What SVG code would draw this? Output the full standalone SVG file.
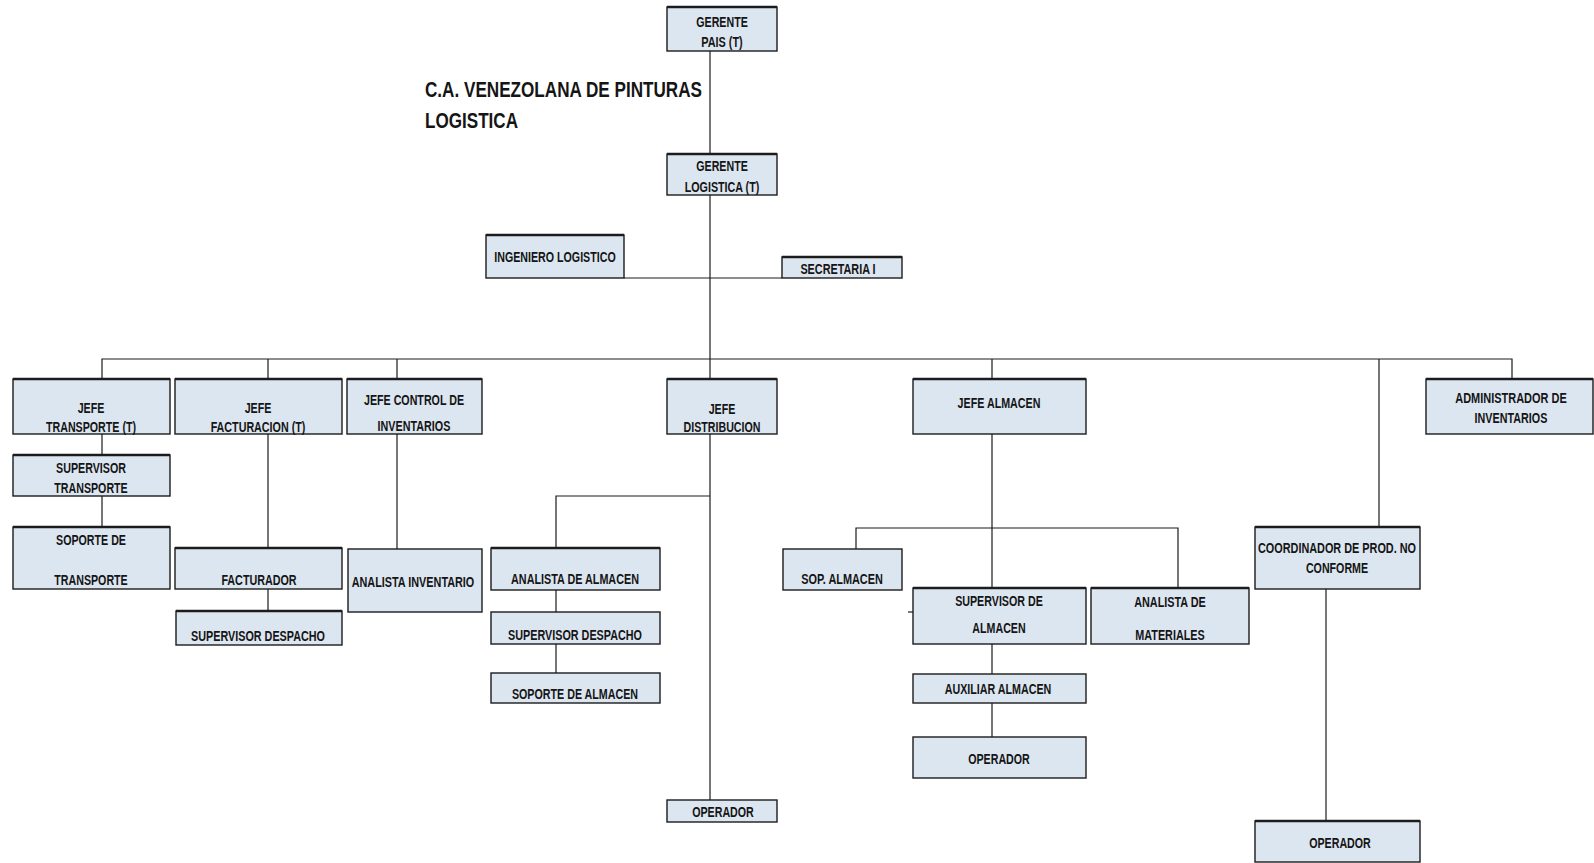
<svg xmlns="http://www.w3.org/2000/svg" width="1594" height="863" viewBox="0 0 1594 863">
<style>
.bg{fill:#ffffff}
.box{fill:#dce6f1;stroke:#1c1c1c;stroke-width:1.4}
.top{stroke:#1c1c1c;stroke-width:2.6}
.t{font-family:'Liberation Sans Narrow','Liberation Sans',Arial,sans-serif;font-weight:bold;font-size:14.5px;text-anchor:middle;fill:#151515}
.title{font-family:'Liberation Sans Narrow','Liberation Sans',Arial,sans-serif;font-weight:bold;font-size:22.5px;fill:#151515}
.c{fill:none;stroke:#1c1c1c;stroke-width:1.2}
</style>
<rect class="bg" x="0" y="0" width="1594" height="863"/>
<g id="title">
<text class="title" x="425" y="97" textLength="277" lengthAdjust="spacingAndGlyphs">C.A. VENEZOLANA DE PINTURAS</text>
<text class="title" x="425" y="128" textLength="93" lengthAdjust="spacingAndGlyphs">LOGISTICA</text>
</g>
<g id="connectors">
<path class="c" d="M710 51V154"/>
<path class="c" d="M710 195V379"/>
<path class="c" d="M624 278H782"/>
<path class="c" d="M102 379V359H1512V379"/>
<path class="c" d="M268 359V379M397 359V379M992 359V379M1379 359V527"/>
<path class="c" d="M102 434V455M102 496V527"/>
<path class="c" d="M268 434V548M268 589V611"/>
<path class="c" d="M397 434V549"/>
<path class="c" d="M710 434V800M710 496H556V548M556 590V612M556 644V673"/>
<path class="c" d="M992 434V588M856 549V528H1178V588"/>
<path class="c" d="M908 612H913"/>
<path class="c" d="M992 644V674M992 703V737"/>
<path class="c" d="M1326 589V821"/>
</g>
<g id="gerente-pais"><rect class="box" x="667" y="7" width="110" height="44"/><line class="top" x1="667" y1="7" x2="777" y2="7"/>
<text class="t" x="722" y="27" textLength="51.5" lengthAdjust="spacingAndGlyphs">GERENTE</text><text class="t" x="722" y="47" textLength="41.5" lengthAdjust="spacingAndGlyphs">PAIS (T)</text></g>
<g id="gerente-logistica"><rect class="box" x="667" y="154" width="110" height="41"/><line class="top" x1="667" y1="154" x2="777" y2="154"/>
<text class="t" x="722" y="171" textLength="51.5" lengthAdjust="spacingAndGlyphs">GERENTE</text><text class="t" x="722" y="192" textLength="74.6" lengthAdjust="spacingAndGlyphs">LOGISTICA (T)</text></g>
<g id="ingeniero-logistico"><rect class="box" x="486" y="235" width="138" height="43"/><line class="top" x1="486" y1="235" x2="624" y2="235"/>
<text class="t" x="555" y="262" textLength="121.4" lengthAdjust="spacingAndGlyphs">INGENIERO LOGISTICO</text></g>
<g id="secretaria"><rect class="box" x="782" y="257" width="120" height="21"/><line class="top" x1="782" y1="257" x2="902" y2="257"/>
<text class="t" x="838" y="274" textLength="75.2" lengthAdjust="spacingAndGlyphs">SECRETARIA I</text></g>
<g id="jefe-transporte"><rect class="box" x="13" y="379" width="157" height="55"/><line class="top" x1="13" y1="379" x2="170" y2="379"/>
<text class="t" x="91" y="413" textLength="26.7" lengthAdjust="spacingAndGlyphs">JEFE</text><text class="t" x="91" y="432" textLength="90" lengthAdjust="spacingAndGlyphs">TRANSPORTE (T)</text></g>
<g id="jefe-facturacion"><rect class="box" x="175" y="379" width="167" height="55"/><line class="top" x1="175" y1="379" x2="342" y2="379"/>
<text class="t" x="258" y="413" textLength="26.7" lengthAdjust="spacingAndGlyphs">JEFE</text><text class="t" x="258" y="432" textLength="94.7" lengthAdjust="spacingAndGlyphs">FACTURACION (T)</text></g>
<g id="jefe-control"><rect class="box" x="347" y="379" width="135" height="55"/><line class="top" x1="347" y1="379" x2="482" y2="379"/>
<text class="t" x="414" y="405" textLength="100" lengthAdjust="spacingAndGlyphs">JEFE CONTROL DE</text><text class="t" x="414" y="431" textLength="72.8" lengthAdjust="spacingAndGlyphs">INVENTARIOS</text></g>
<g id="jefe-distribucion"><rect class="box" x="667" y="379" width="110" height="55"/><line class="top" x1="667" y1="379" x2="777" y2="379"/>
<text class="t" x="722" y="414" textLength="26.7" lengthAdjust="spacingAndGlyphs">JEFE</text><text class="t" x="722" y="432" textLength="76.8" lengthAdjust="spacingAndGlyphs">DISTRIBUCION</text></g>
<g id="jefe-almacen"><rect class="box" x="913" y="379" width="173" height="55"/><line class="top" x1="913" y1="379" x2="1086" y2="379"/>
<text class="t" x="999" y="408" textLength="82.9" lengthAdjust="spacingAndGlyphs">JEFE ALMACEN</text></g>
<g id="administrador-inventarios"><rect class="box" x="1426" y="379" width="167" height="55"/><line class="top" x1="1426" y1="379" x2="1593" y2="379"/>
<text class="t" x="1511" y="403" textLength="111.4" lengthAdjust="spacingAndGlyphs">ADMINISTRADOR DE</text><text class="t" x="1511" y="423" textLength="72.8" lengthAdjust="spacingAndGlyphs">INVENTARIOS</text></g>
<g id="supervisor-transporte"><rect class="box" x="13" y="455" width="157" height="41"/><line class="top" x1="13" y1="455" x2="170" y2="455"/>
<text class="t" x="91" y="473" textLength="69.9" lengthAdjust="spacingAndGlyphs">SUPERVISOR</text><text class="t" x="91" y="493" textLength="73.4" lengthAdjust="spacingAndGlyphs">TRANSPORTE</text></g>
<g id="soporte-transporte"><rect class="box" x="13" y="527" width="157" height="62"/><line class="top" x1="13" y1="527" x2="170" y2="527"/>
<text class="t" x="91" y="545" textLength="69.9" lengthAdjust="spacingAndGlyphs">SOPORTE DE</text><text class="t" x="91" y="585" textLength="73.4" lengthAdjust="spacingAndGlyphs">TRANSPORTE</text></g>
<g id="facturador"><rect class="box" x="175" y="548" width="167" height="41"/><line class="top" x1="175" y1="548" x2="342" y2="548"/>
<text class="t" x="259" y="585" textLength="75.2" lengthAdjust="spacingAndGlyphs">FACTURADOR</text></g>
<g id="supervisor-despacho-fact"><rect class="box" x="176" y="611" width="166" height="34"/><line class="top" x1="176" y1="611" x2="342" y2="611"/>
<text class="t" x="258" y="641" textLength="133.9" lengthAdjust="spacingAndGlyphs">SUPERVISOR DESPACHO</text></g>
<g id="analista-inventario"><rect class="box" x="348" y="549" width="134" height="63"/>
<text class="t" x="413" y="587" textLength="122.6" lengthAdjust="spacingAndGlyphs">ANALISTA INVENTARIO</text></g>
<g id="analista-almacen"><rect class="box" x="491" y="548" width="169" height="42"/><line class="top" x1="491" y1="548" x2="660" y2="548"/>
<text class="t" x="575" y="584" textLength="127.9" lengthAdjust="spacingAndGlyphs">ANALISTA DE ALMACEN</text></g>
<g id="supervisor-despacho-dist"><rect class="box" x="491" y="612" width="169" height="32"/>
<text class="t" x="575" y="640" textLength="133.9" lengthAdjust="spacingAndGlyphs">SUPERVISOR DESPACHO</text></g>
<g id="soporte-almacen"><rect class="box" x="491" y="673" width="169" height="30"/>
<text class="t" x="575" y="699" textLength="126.2" lengthAdjust="spacingAndGlyphs">SOPORTE DE ALMACEN</text></g>
<g id="operador-dist"><rect class="box" x="667" y="800" width="110" height="22"/>
<text class="t" x="723" y="817" textLength="61.6" lengthAdjust="spacingAndGlyphs">OPERADOR</text></g>
<g id="sop-almacen"><rect class="box" x="783" y="549" width="119" height="41"/>
<text class="t" x="842" y="584" textLength="81.7" lengthAdjust="spacingAndGlyphs">SOP. ALMACEN</text></g>
<g id="supervisor-almacen"><rect class="box" x="913" y="588" width="173" height="56"/><line class="top" x1="913" y1="588" x2="1086" y2="588"/>
<text class="t" x="999" y="606" textLength="87.7" lengthAdjust="spacingAndGlyphs">SUPERVISOR DE</text><text class="t" x="999" y="633" textLength="53.3" lengthAdjust="spacingAndGlyphs">ALMACEN</text></g>
<g id="analista-materiales"><rect class="box" x="1091" y="588" width="158" height="56"/><line class="top" x1="1091" y1="588" x2="1249" y2="588"/>
<text class="t" x="1170" y="607" textLength="71.7" lengthAdjust="spacingAndGlyphs">ANALISTA DE</text><text class="t" x="1170" y="640" textLength="69.3" lengthAdjust="spacingAndGlyphs">MATERIALES</text></g>
<g id="auxiliar-almacen"><rect class="box" x="913" y="674" width="173" height="29"/>
<text class="t" x="998" y="694" textLength="106.6" lengthAdjust="spacingAndGlyphs">AUXILIAR ALMACEN</text></g>
<g id="operador-almacen"><rect class="box" x="913" y="737" width="173" height="41"/>
<text class="t" x="999" y="764" textLength="61.6" lengthAdjust="spacingAndGlyphs">OPERADOR</text></g>
<g id="coordinador"><rect class="box" x="1255" y="527" width="165" height="62"/><line class="top" x1="1255" y1="527" x2="1420" y2="527"/>
<text class="t" x="1337" y="553" textLength="158" lengthAdjust="spacingAndGlyphs">COORDINADOR DE PROD. NO</text><text class="t" x="1337" y="573" textLength="62.2" lengthAdjust="spacingAndGlyphs">CONFORME</text></g>
<g id="operador-coord"><rect class="box" x="1255" y="821" width="165" height="41"/><line class="top" x1="1255" y1="821" x2="1420" y2="821"/>
<text class="t" x="1340" y="848" textLength="61.6" lengthAdjust="spacingAndGlyphs">OPERADOR</text></g>
</svg>
